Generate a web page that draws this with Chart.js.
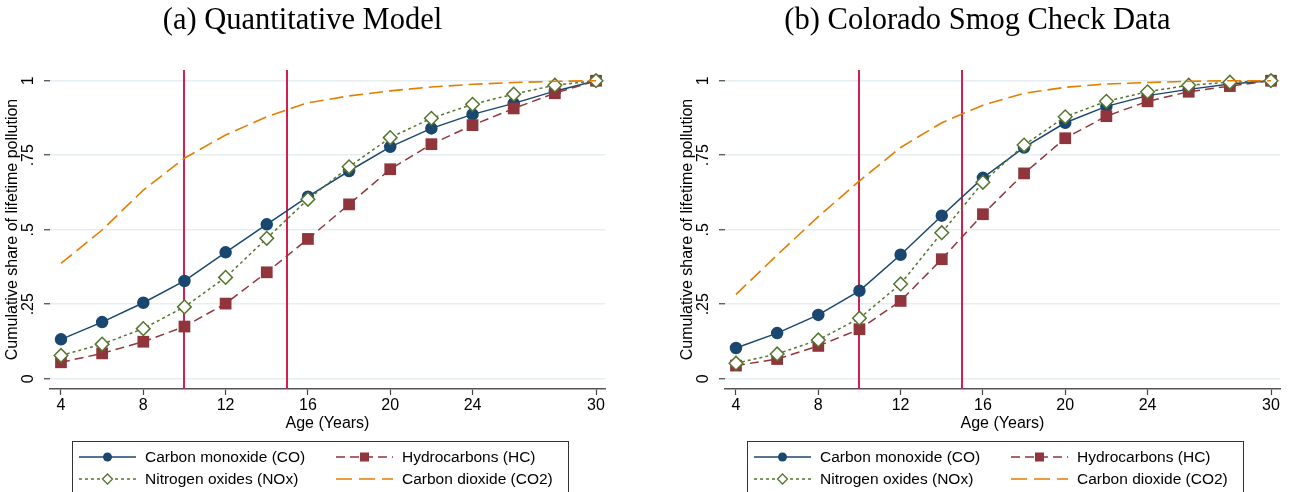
<!DOCTYPE html>
<html>
<head>
<meta charset="utf-8">
<script src="https://cdn.jsdelivr.net/npm/chart.js@4"></script>
<style>
  html, body { margin: 0; padding: 0; background: #fff; }
  .panel { position: absolute; top: 0; width: 618px; height: 492px; }
</style>
</head>
<body>
<div class="panel" style="left:0px"><canvas id="chart-model" width="618" height="492"></canvas></div>
<div class="panel" style="left:675px"><canvas id="chart-smog" width="618" height="492"></canvas></div>
<script>
// vehicle age (years)
const ages = [4, 6, 8, 10, 12, 14, 16, 18, 20, 22, 24, 26, 28, 30];

// (a) quantitative model
const modelCO  = [0.132, 0.190, 0.255, 0.328, 0.424, 0.518, 0.611, 0.697, 0.778, 0.840, 0.887, 0.924, 0.965, 1.0];
const modelHC  = [0.055, 0.085, 0.124, 0.175, 0.252, 0.357, 0.469, 0.585, 0.703, 0.787, 0.851, 0.907, 0.958, 1.0];
const modelNOx = [0.078, 0.116, 0.168, 0.241, 0.340, 0.471, 0.602, 0.711, 0.809, 0.874, 0.921, 0.955, 0.985, 1.0];
const modelCO2 = [0.387, 0.499, 0.633, 0.740, 0.818, 0.879, 0.926, 0.949, 0.966, 0.979, 0.988, 0.994, 0.998, 1.0];

// (b) colorado smog check data
const smogCO  = [0.103, 0.153, 0.214, 0.295, 0.416, 0.547, 0.674, 0.776, 0.859, 0.914, 0.950, 0.971, 0.989, 1.0];
const smogHC  = [0.044, 0.066, 0.110, 0.166, 0.261, 0.401, 0.552, 0.689, 0.807, 0.881, 0.931, 0.963, 0.982, 1.0];
const smogNOx = [0.052, 0.083, 0.130, 0.203, 0.318, 0.490, 0.659, 0.784, 0.879, 0.931, 0.963, 0.985, 0.995, 1.0];
const smogCO2 = [0.283, 0.415, 0.544, 0.664, 0.776, 0.859, 0.918, 0.958, 0.978, 0.989, 0.994, 0.998, 1.0, 1.0];

// axes
const xTicks = [4, 8, 12, 16, 20, 24, 30];
const yTicks = [0, 0.25, 0.5, 0.75, 1];
const yTickLabels = ['0', '.25', '.5', '.75', '1'];
const refLines = [10, 15];

const seriesNames = ['Carbon monoxide (CO)', 'Hydrocarbons (HC)', 'Nitrogen oxides (NOx)', 'Carbon dioxide (CO2)'];

const NAVY = '#1a476f', MAROON = '#90353b', GREEN = '#55752f', ORANGE = '#e37e00';
const SANS = '"Liberation Sans", Arial, sans-serif';

function pts(vals) {
    return ages.map((a, i) => ({x: a, y: vals[i]}));
}

// draw one legend marker by hand
function drawMarker(ctx, style, x, y, r, color) {
    ctx.save();
    ctx.setLineDash([]);
    ctx.beginPath();
    if (style == 'circle') {
        ctx.arc(x, y, r, 0, Math.PI * 2);
        ctx.fillStyle = color;
        ctx.fill();
    } else if (style == 'rect') {
        ctx.fillStyle = color;
        ctx.fillRect(x - r, y - r, 2 * r, 2 * r);
    } else if (style == 'rectRot') {
        ctx.moveTo(x - r, y); ctx.lineTo(x, y - r); ctx.lineTo(x + r, y); ctx.lineTo(x, y + r); ctx.closePath();
        ctx.fillStyle = '#fff';
        ctx.fill();
        ctx.strokeStyle = color;
        ctx.lineWidth = 1.3;
        ctx.stroke();
    }
    ctx.restore();
}

// red reference lines behind the data
const refLinePlugin = {
    id: 'refLines',
    beforeDatasetsDraw(chart) {
        const ctx = chart.ctx, xs = chart.scales.x, area = chart.chartArea;
        ctx.save();
        ctx.strokeStyle = '#d0204f';
        ctx.lineWidth = 2;
        for (v of refLines) {
            const px = Math.round(xs.getPixelForValue(v));
            ctx.beginPath();
            ctx.moveTo(px, area.top);
            ctx.lineTo(px, area.bottom);
            ctx.stroke();
        }
        ctx.restore();
    }
};

// rotated y tick labels (Stata style)
const yLabelPlugin = {
    id: 'yLabels',
    afterDraw(chart) {
        const ctx = chart.ctx, ys = chart.scales.y;
        ctx.save();
        ctx.font = '16px ' + SANS;
        ctx.fillStyle = '#000';
        ctx.textAlign = 'center';
        ctx.textBaseline = 'middle';
        yTicks.forEach((v, i) => {
            ctx.save();
            ctx.translate(29, ys.getPixelForValue(v));
            ctx.rotate(-Math.PI / 2);
            ctx.fillText(yTickLabels[i], 0, 0);
            ctx.restore();
        });
        ctx.restore();
    }
};

// boxed legend below the x axis
const legendPlugin = {
    id: 'boxLegend',
    afterDraw(chart) {
        const ctx = chart.ctx;
        const items = [
            {ds: 0, col: 0, row: 0, style: 'circle', r: 4.5},
            {ds: 1, col: 1, row: 0, style: 'rect', r: 4.5},
            {ds: 2, col: 0, row: 1, style: 'rectRot', r: 5},
            {ds: 3, col: 1, row: 1, style: null, r: 0}
        ];
        ctx.save();
        ctx.strokeStyle = '#333';
        ctx.lineWidth = 1;
        ctx.strokeRect(72.5, 441.5, 496, 70);

        for (it of items) {
            const ds = chart.data.datasets[it.ds];
            const x0 = it.col == 0 ? 79 : 336;
            const x1 = x0 + 57;
            const y = it.row == 0 ? 457 : 479;
            ctx.save();
            ctx.strokeStyle = ds.borderColor;
            ctx.lineWidth = ds.borderWidth;
            ctx.setLineDash(it.ds == 3 ? [16, 7] : (ds.borderDash || []));
            ctx.beginPath();
            ctx.moveTo(x0, y);
            ctx.lineTo(x1, y);
            ctx.stroke();
            ctx.restore();
            if (it.style) drawMarker(ctx, it.style, (x0 + x1) / 2, y, it.r, ds.borderColor);

            ctx.font = '15.5px ' + SANS;
            ctx.fillStyle = '#000';
            ctx.textBaseline = 'middle';
            ctx.fillText(seriesNames[it.ds], x1 + 9, y + 1);
        }
        ctx.restore();
    }
};

function makeChart(canvasId, title, co, hc, nox, co2) {
    const data = {
        datasets: [
            {
                label: seriesNames[0], data: pts(co), order: 3,
                borderColor: NAVY, borderWidth: 1.5,
                pointStyle: 'circle', pointRadius: 5.5,
                pointBackgroundColor: NAVY, pointBorderColor: NAVY
            },
            {
                label: seriesNames[1], data: pts(hc), order: 2,
                borderColor: MAROON, borderWidth: 1.5, borderDash: [9, 5],
                pointStyle: 'rect', pointRadius: 8.3,
                pointBackgroundColor: MAROON, pointBorderColor: MAROON, pointBorderWidth: 0
            },
            {
                label: seriesNames[2], data: pts(nox), order: 1,
                borderColor: GREEN, borderWidth: 1.5, borderDash: [3, 3],
                pointStyle: 'rectRot', pointRadius: 6.8,
                pointBackgroundColor: '#fff', pointBorderColor: GREEN, pointBorderWidth: 1.5
            },
            {
                label: seriesNames[3], data: pts(co2), order: 0,
                borderColor: ORANGE, borderWidth: 1.6, borderDash: [14, 6],
                pointRadius: 0
            }
        ]
    };

    const config = {
        type: 'line',
        data: data,
        options: {
            responsive: false,
            animation: false,
            layout: { padding: { left: 0, right: 13, top: 0, bottom: 58 } },
            plugins: {
                legend: { display: false },
                tooltip: { enabled: false },
                title: {
                    display: true,
                    text: title,
                    color: '#000',
                    font: { family: '"Liberation Serif", "Times New Roman", serif', size: 30.5, weight: 'normal' },
                    padding: { top: 3, bottom: 30.4 }
                }
            },
            scales: {
                x: {
                    type: 'linear',
                    min: 3.466,
                    max: 30.437,
                    afterBuildTicks: s => { s.ticks = xTicks.map(v => ({value: v})); },
                    afterFit: s => { s.height = 45; },
                    ticks: { autoSkip: false, maxRotation: 0, color: '#000', padding: 1, font: { family: SANS, size: 16 } },
                    grid: { drawOnChartArea: false, tickColor: '#444', tickLength: 6, tickWidth: 1.2 },
                    border: { display: true, color: '#555', width: 1.5 },
                    title: { display: true, text: 'Age (Years)', color: '#000', font: { family: SANS, size: 16 }, padding: { top: 0, bottom: 1 } }
                },
                y: {
                    type: 'linear',
                    min: -0.0346,
                    max: 1.036,
                    afterBuildTicks: s => { s.ticks = yTicks.map(v => ({value: v})); },
                    afterFit: s => { s.width = 50; },
                    ticks: { display: false },
                    grid: { color: '#e6eef1', lineWidth: 1.5, tickColor: '#444', tickLength: 6, tickWidth: 1.2 },
                    border: { display: false },
                    title: { display: true, text: 'Cumulative share of lifetime pollution', color: '#000', font: { family: SANS, size: 16 }, padding: { top: 3, bottom: 0 } }
                }
            }
        },
        plugins: [refLinePlugin, yLabelPlugin, legendPlugin]
    };

    return new Chart(document.getElementById(canvasId).getContext('2d'), config);
}

const chartModel = makeChart('chart-model', '(a) Quantitative Model', modelCO, modelHC, modelNOx, modelCO2);
const chartSmog = makeChart('chart-smog', '(b) Colorado Smog Check Data', smogCO, smogHC, smogNOx, smogCO2);
</script>
</body>
</html>
